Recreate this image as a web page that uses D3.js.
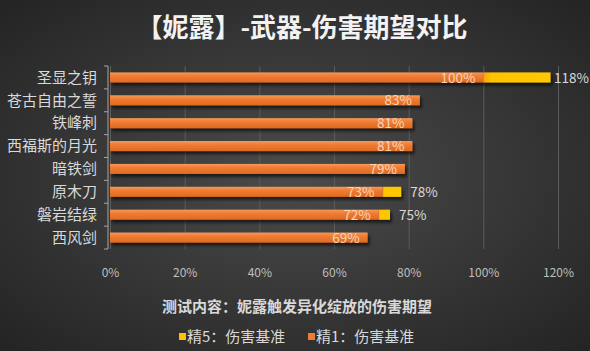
<!DOCTYPE html>
<html>
<head>
<meta charset="utf-8">
<script src="https://cdn.jsdelivr.net/npm/d3@7"></script>
<style>
  html, body { margin: 0; padding: 0; background: #2b2b2b; }
  svg { display: block; font-family: "Noto Sans CJK SC", "Noto Sans", sans-serif; }
</style>
</head>
<body>
<div id="chart"></div>
<script>
// 数据
const weapons = ['圣显之钥', '苍古自由之誓', '铁峰刺', '西福斯的月光', '暗铁剑', '原木刀', '磐岩结绿', '西风剑'];
const refine1 = [100, 83, 81, 81, 79, 73, 72, 69];
const refine5 = [118, null, null, null, null, 78, 75, null];
const xTicks = [0, 20, 40, 60, 80, 100, 120];
const seriesNames = ['精5：伤害基准', '精1：伤害基准'];

const W = 590, H = 351;
const margin = { top: 66, left: 110 };
const plotW = 448, plotH = 183;

const svg = d3.select('#chart').append('svg')
    .attr('width', W)
    .attr('height', H);

const defs = svg.append('defs');

// 背景径向渐变
const bg = defs.append('radialGradient').attr('id', 'bg')
    .attr('cx', '50%').attr('cy', '50%').attr('r', '70%');
bg.append('stop').attr('offset', '0%').attr('stop-color', '#4b4b4b');
bg.append('stop').attr('offset', '100%').attr('stop-color', '#242424');

const og = defs.append('linearGradient').attr('id', 'orange')
    .attr('x1', 0).attr('y1', 0).attr('x2', 0).attr('y2', 1);
og.append('stop').attr('offset', '0%').attr('stop-color', '#f6995a');
og.append('stop').attr('offset', '35%').attr('stop-color', '#f07d33');
og.append('stop').attr('offset', '100%').attr('stop-color', '#e0691f');

const yg = defs.append('linearGradient').attr('id', 'yellow')
    .attr('x1', 0).attr('y1', 0).attr('x2', 1).attr('y2', 0);
yg.append('stop').attr('offset', '0%').attr('stop-color', '#f5a412');
yg.append('stop').attr('offset', '12%').attr('stop-color', '#ffc400');
yg.append('stop').attr('offset', '100%').attr('stop-color', '#ffc800');

const shadow = defs.append('filter').attr('id', 'shadow')
    .attr('x', '-5%').attr('y', '-50%').attr('width', '115%').attr('height', '250%');
shadow.append('feDropShadow')
    .attr('dx', 2).attr('dy', 3).attr('stdDeviation', 1.5)
    .attr('flood-color', '#000').attr('flood-opacity', 0.6);

svg.append('rect').attr('width', W).attr('height', H).attr('fill', 'url(#bg)');

// 标题
svg.append('text')
    .attr('x', 302).attr('y', 37)
    .attr('text-anchor', 'middle')
    .style('font-size', '26px').style('font-weight', 'bold')
    .style('fill', '#f2f2f2')
    .text('【妮露】-武器-伤害期望对比');

const g = svg.append('g').attr('transform', `translate(${margin.left},${margin.top})`);

const x = d3.scaleLinear().domain([0, 120]).range([0, plotW]);
const y = d3.scaleBand().domain(weapons).range([0, plotH]).padding(0);
const barH = y.bandwidth() * 0.44;

// 网格
g.append('g')
    .call(d3.axisBottom(x).tickValues(xTicks).tickSize(plotH).tickFormat(''))
    .call(s => s.select('.domain').remove())
    .selectAll('line')
    .style('stroke', '#5c5c5c').style('stroke-width', 1);

// X 轴标签
g.append('g')
    .attr('transform', `translate(0,${plotH})`)
    .call(d3.axisBottom(x).tickValues(xTicks).tickSize(0).tickPadding(19).tickFormat(d => d + '%'))
    .call(s => s.select('.domain').remove())
    .selectAll('text')
    .style('font-size', '12px').style('fill', '#bfbfbf')
    .style('font-family', '"Noto Sans CJK SC", sans-serif');

// Y 轴
const yAxisG = g.append('g').attr('transform', 'translate(-2,0)');
yAxisG.append('line')
    .attr('x1', 0).attr('x2', 0).attr('y1', 0).attr('y2', plotH)
    .style('stroke', '#a6a6a6');
yAxisG.selectAll('.tk').data(d3.range(weapons.length + 1)).enter().append('line')
    .attr('x1', -4).attr('x2', 0)
    .attr('y1', i => i * y.step()).attr('y2', i => i * y.step())
    .style('stroke', '#a6a6a6');
yAxisG.selectAll('.lbl').data(weapons).enter().append('text')
    .attr('x', -11)
    .attr('y', d => y(d) + y.bandwidth() / 2)
    .attr('dy', '0.35em')
    .attr('text-anchor', 'end')
    .style('font-size', '15px').style('fill', '#d9d9d9')
    .text(d => d);

const rows = weapons.map((w, i) => ({ w, v1: refine1[i], v5: refine5[i] }));

const bars = g.append('g').attr('filter', 'url(#shadow)');
bars.selectAll('.b1').data(rows).enter().append('rect')
    .attr('x', 0)
    .attr('y', d => y(d.w) + (y.bandwidth() - barH) / 2)
    .attr('width', d => x(d.v1))
    .attr('height', barH)
    .attr('fill', 'url(#orange)');
bars.selectAll('.b5').data(rows.filter(d => d.v5 != null)).enter().append('rect')
    .attr('x', d => x(d.v1))
    .attr('y', d => y(d.w) + (y.bandwidth() - barH) / 2)
    .attr('width', d => x(d.v5) - x(d.v1))
    .attr('height', barH)
    .attr('fill', 'url(#yellow)');

// 数值标签
g.selectAll('.l1').data(rows).enter().append('text')
    .attr('x', d => x(d.v1) - 8)
    .attr('y', d => y(d.w) + y.bandwidth() / 2)
    .attr('dy', '0.38em')
    .attr('text-anchor', 'end')
    .style('font-size', '13.5px').style('fill', '#f9d3b8')
    .text(d => d.v1 + '%');
g.selectAll('.l5').data(rows.filter(d => d.v5 != null)).enter().append('text')
    .attr('y', d => y(d.w) + y.bandwidth() / 2)
    .attr('dy', '0.38em')
    .style('font-size', '13.5px').style('fill', '#d9d9d9')
    .text(d => d.v5 + '%')
    .attr('x', function(d) {
        const w = this.getComputedTextLength();
        return Math.min(x(d.v5) + 9, W - margin.left - w - 1);
    });

// 副标题
svg.append('text')
    .attr('x', 297).attr('y', 307)
    .attr('dy', '0.35em')
    .attr('text-anchor', 'middle')
    .style('font-size', '15px').style('font-weight', 'bold')
    .style('fill', '#d9d9d9')
    .text('测试内容：妮露触发异化绽放的伤害期望');

// 图例
const legend = svg.append('g').attr('transform', 'translate(179,337)');
const legendItems = [
    { name: seriesNames[0], color: '#ffc000', dx: 0 },
    { name: seriesNames[1], color: '#ed7d31', dx: 129 }
];
const li = legend.selectAll('g').data(legendItems).enter().append('g')
    .attr('transform', d => `translate(${d.dx},0)`);
li.append('rect').attr('x', 0).attr('y', -4).attr('width', 7).attr('height', 7)
    .attr('fill', d => d.color);
li.append('text').attr('x', 8).attr('dy', '0.35em')
    .style('font-size', '15px').style('fill', '#d9d9d9')
    .text(d => d.name);
</script>
</body>
</html>
